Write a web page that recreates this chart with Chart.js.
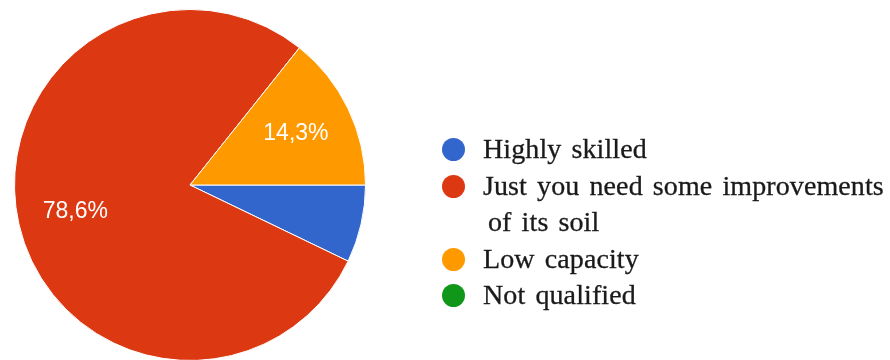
<!DOCTYPE html>
<html>
<head>
<meta charset="utf-8">
<script src="https://cdn.jsdelivr.net/npm/chart.js@4/dist/chart.umd.min.js"></script>
<style>
  html, body { margin: 0; padding: 0; background: #fff; overflow: hidden; }
  #wrap { position: relative; width: 890px; height: 362px; }
  #legend {
    position: absolute; left: 442px; top: 131px; width: 448px;
    font-family: "Liberation Serif", "Times New Roman", serif;
    font-size: 28px; line-height: 36.5px; color: #1a1a1a;
    word-spacing: 3px; letter-spacing: 0.1px;
    -webkit-text-stroke: 0.3px #1a1a1a;
  }
  .row { display: flex; align-items: flex-start; }
  .dot { width: 23px; height: 23px; border-radius: 50%; margin-top: 7px; flex: none; }
  .txt { margin-left: 18px; padding-left: 5px; text-indent: -5px; white-space: normal; max-width: 415px; }
</style>
</head>
<body>
<div id="wrap">
  <canvas id="myChart" width="890" height="362"></canvas>
  <div id="legend"></div>
</div>
<script>
const categories = ['Highly skilled', 'Just you need some improvements of its soil', 'Low capacity', 'Not qualified'];
const answers = [1, 11, 2, 0];
const colors = ['#3366cc', '#dc3912', '#ff9900', '#109618'];

// percentage labels inside the bigger slices, Google style "78,6%"
const sliceLabels = {
  id: 'sliceLabels',
  afterDatasetsDraw(chart) {
    const ctx = chart.ctx;
    const meta = chart.getDatasetMeta(0);
    const total = answers.reduce((a, b) => a + b, 0);
    ctx.save();
    ctx.fillStyle = '#fff';
    ctx.font = '23px "Liberation Sans", Arial, sans-serif';
    ctx.textAlign = 'center';
    ctx.textBaseline = 'middle';
    meta.data.forEach(function(arc, i) {
      const share = answers[i] / total;
      if (share < 0.1) return;
      const p = arc.getProps(['x', 'y', 'startAngle', 'endAngle', 'outerRadius'], true);
      const mid = (p.startAngle + p.endAngle) / 2;
      const r = p.outerRadius * 0.67;
      const txt = (share * 100).toFixed(1).replace('.', ',') + '%';
      ctx.fillText(txt, p.x + Math.cos(mid) * r, p.y + Math.sin(mid) * r);
    });
    ctx.restore();
  }
};

const myChart = new Chart(document.getElementById('myChart'), {
  type: 'pie',
  data: {
    labels: categories,
    datasets: [{
      data: answers,
      backgroundColor: colors,
      borderColor: '#fff',
      borderWidth: 1
    }]
  },
  options: {
    responsive: false,
    animation: false,
    rotation: 90,
    layout: { padding: { top: 9, bottom: 1, left: 14, right: 524 } },
    plugins: {
      legend: { display: false },
      tooltip: { enabled: false }
    }
  },
  plugins: [sliceLabels]
});

const legend = document.getElementById('legend');
categories.forEach(function(name, i) {
  const row = document.createElement('div');
  row.className = 'row';
  const dot = document.createElement('div');
  dot.className = 'dot';
  dot.style.background = colors[i];
  const txt = document.createElement('div');
  txt.className = 'txt';
  txt.textContent = name;
  row.appendChild(dot);
  row.appendChild(txt);
  legend.appendChild(row);
});
</script>
</body>
</html>
